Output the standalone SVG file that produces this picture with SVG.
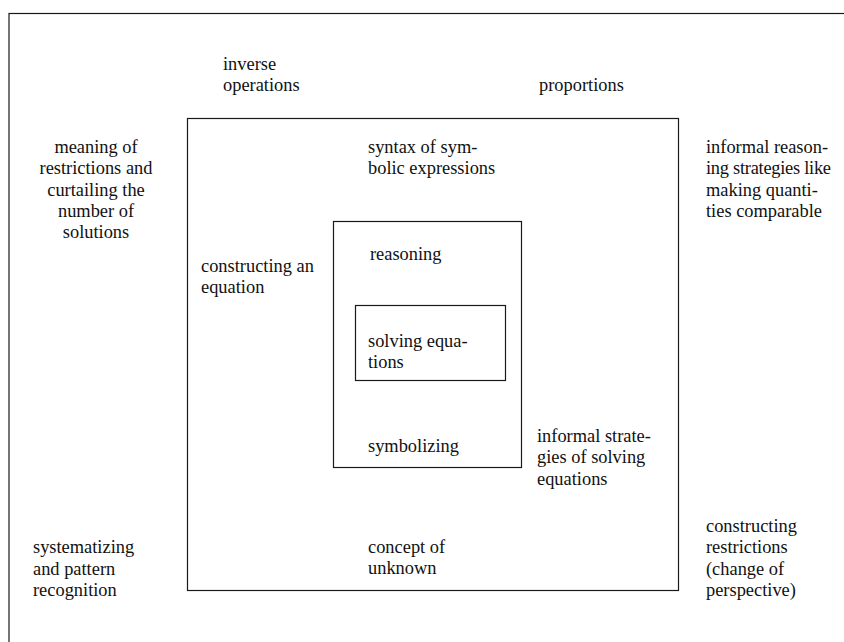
<svg xmlns="http://www.w3.org/2000/svg" width="844" height="642" viewBox="0 0 844 642">
<style>
text{font-family:'Liberation Serif','Times New Roman',serif;font-size:18.4px;fill:#111}
.box{fill:none;stroke:#1a1a1a;stroke-width:1.2}
.c{text-anchor:middle}
</style>
<rect x="0" y="0" width="844" height="642" fill="#fff"/>
<g id="frame"><rect class="box" x="9" y="13.5" width="900" height="700" stroke="#333"/></g>
<g id="outer-box"><rect class="box" x="187.5" y="118.5" width="491" height="472"/></g>
<g id="middle-box"><rect class="box" x="333.5" y="221.5" width="188" height="246"/></g>
<g id="inner-box"><rect class="box" x="355.5" y="305.5" width="150" height="75"/></g>
<g id="connectors"></g>
<g id="inverse-operations"><text x="223" y="70">inverse</text><text x="223" y="91">operations</text></g>
<g id="proportions"><text x="539" y="91">proportions</text></g>
<g id="meaning-of-restrictions">
<text class="c" x="96" y="153">meaning of</text>
<text class="c" x="96" y="174">restrictions and</text>
<text class="c" x="96" y="196">curtailing the</text>
<text class="c" x="96" y="217">number of</text>
<text class="c" x="96" y="238">solutions</text>
</g>
<g id="syntax"><text x="368" y="153">syntax of sym-</text><text x="368" y="174">bolic expressions</text></g>
<g id="informal-reasoning">
<text x="706" y="153">informal reason-</text>
<text x="706" y="174" textLength="125" lengthAdjust="spacing">ing strategies like</text>
<text x="706" y="196">making quanti-</text>
<text x="706" y="217">ties comparable</text>
</g>
<g id="constructing-equation"><text x="201" y="272">constructing an</text><text x="201" y="293">equation</text></g>
<g id="reasoning"><text x="370" y="260">reasoning</text></g>
<g id="solving-equations"><text x="368" y="347">solving equa-</text><text x="368" y="368">tions</text></g>
<g id="informal-strategies"><text x="537" y="442">informal strate-</text><text x="537" y="463">gies of solving</text><text x="537" y="485">equations</text></g>
<g id="symbolizing"><text x="368" y="452">symbolizing</text></g>
<g id="systematizing"><text x="33" y="553">systematizing</text><text x="33" y="575">and pattern</text><text x="33" y="596">recognition</text></g>
<g id="concept-of-unknown"><text x="368" y="553">concept of</text><text x="368" y="574">unknown</text></g>
<g id="constructing-restrictions"><text x="706" y="532">constructing</text><text x="706" y="553">restrictions</text><text x="706" y="575">(change of</text><text x="706" y="596">perspective)</text></g>
</svg>
